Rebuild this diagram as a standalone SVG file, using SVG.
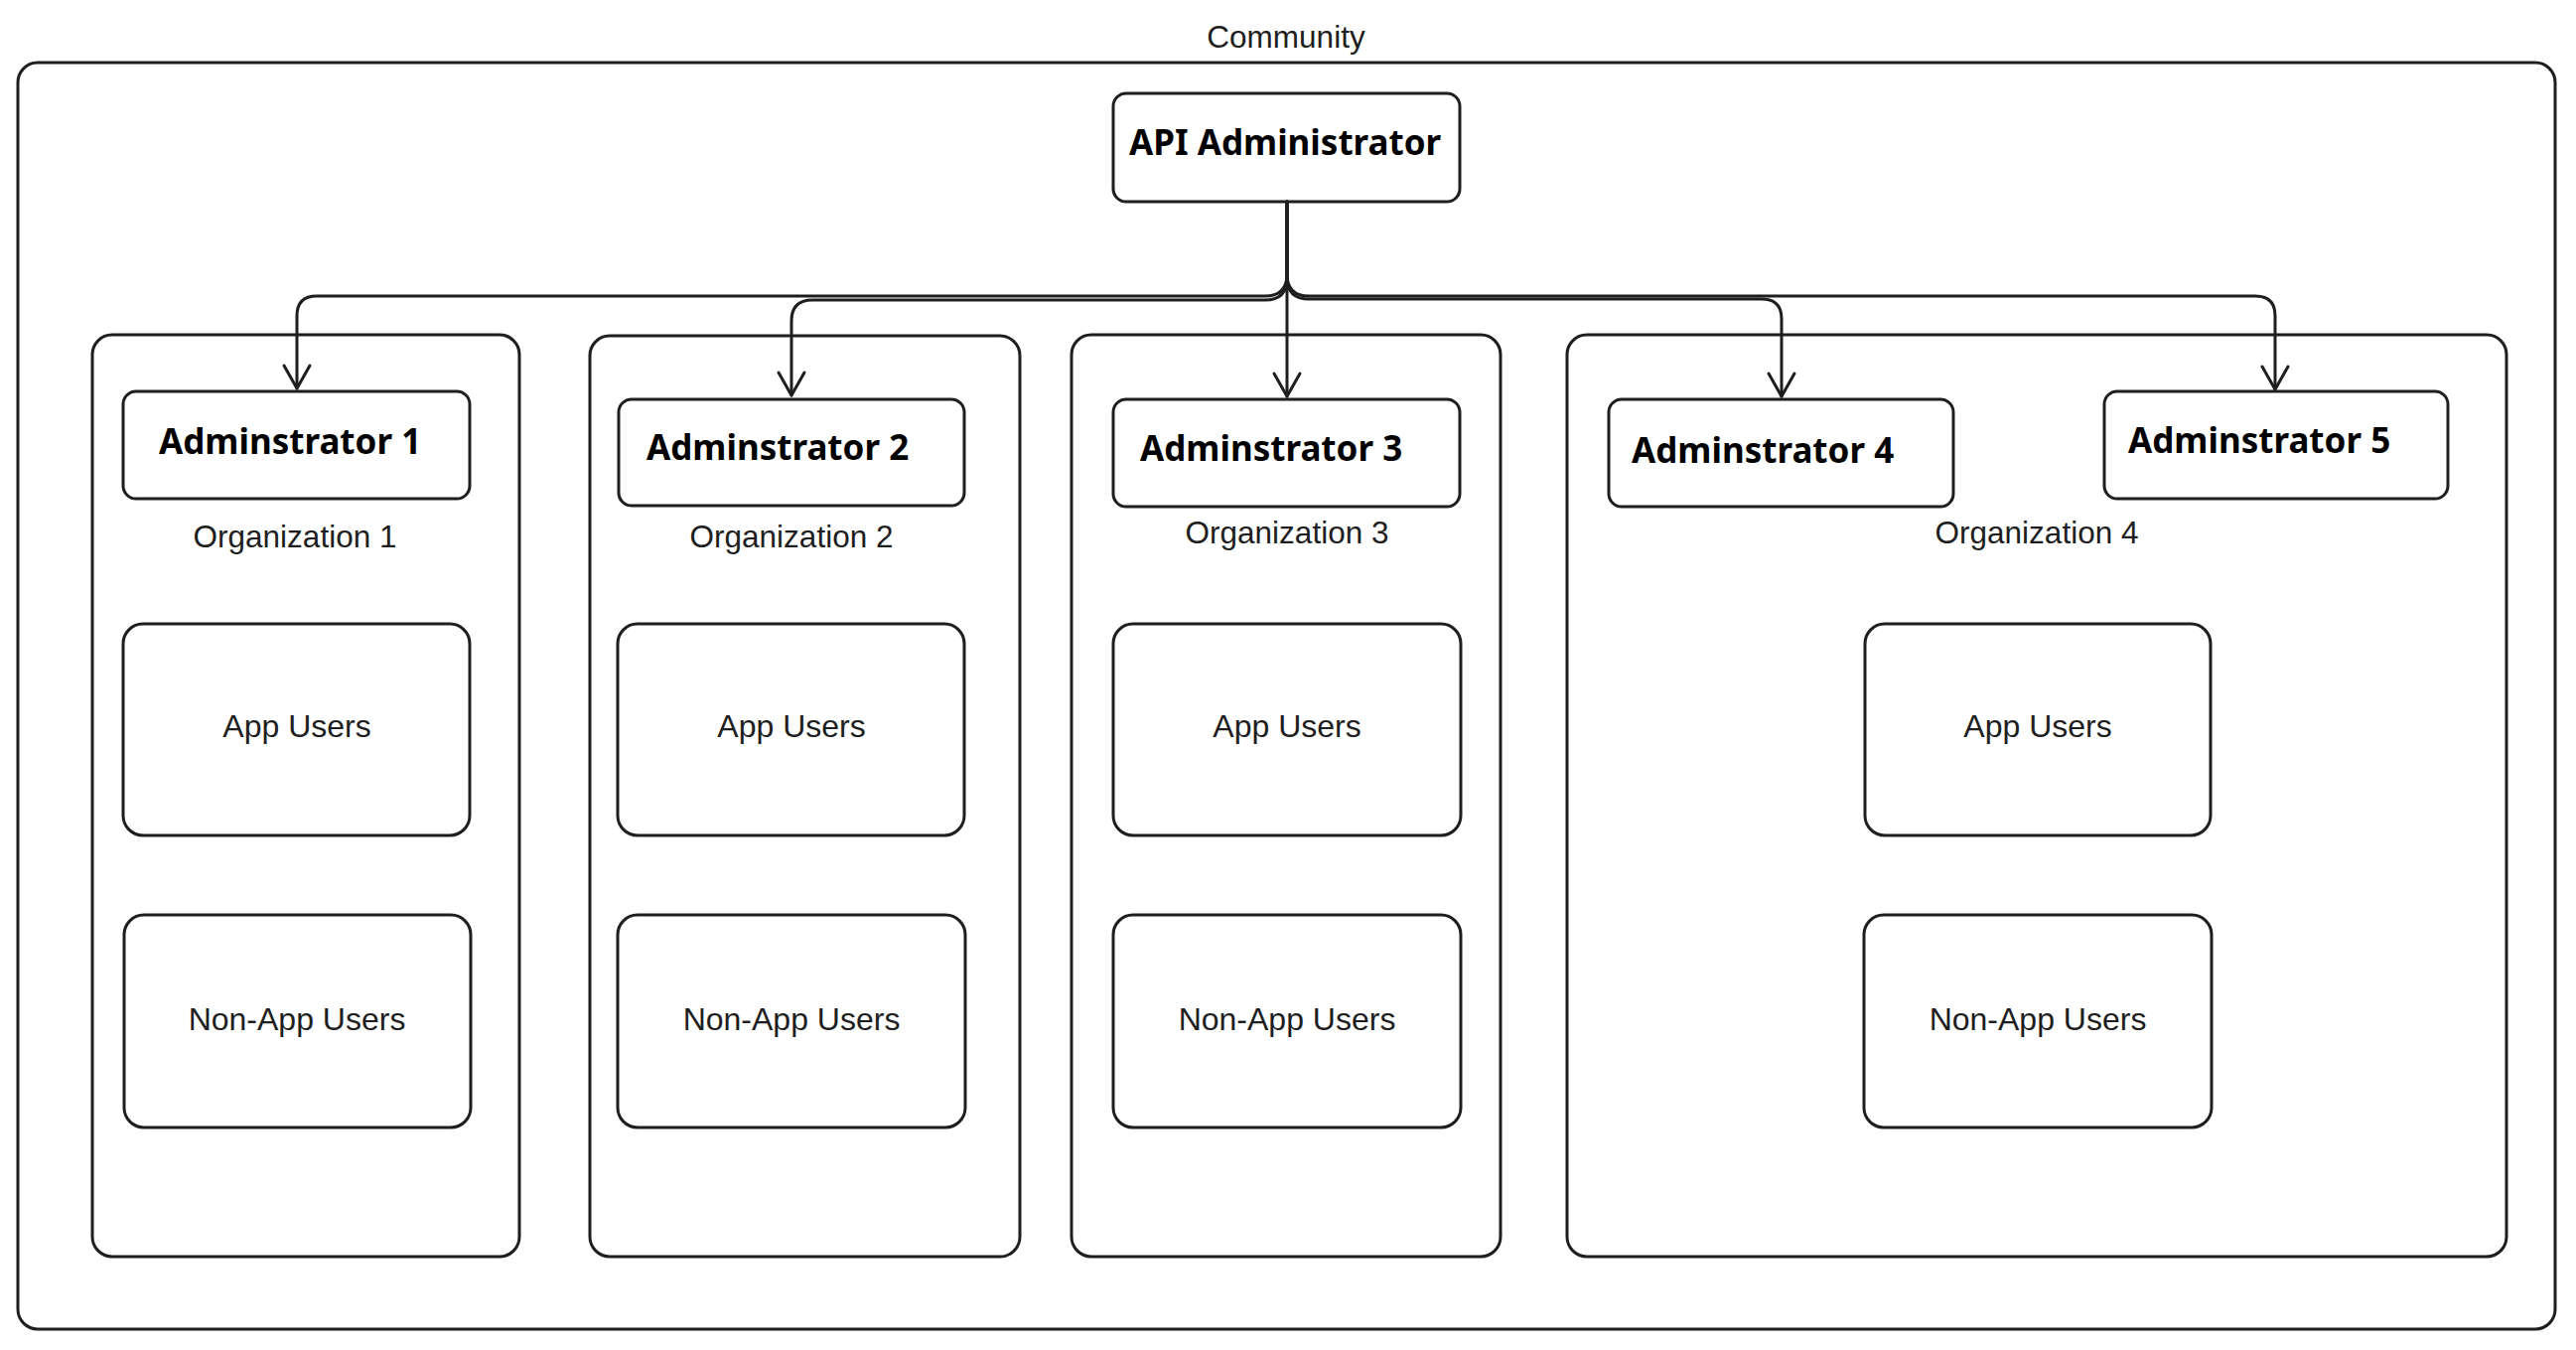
<svg xmlns="http://www.w3.org/2000/svg" width="2594" height="1359" viewBox="0 0 2594 1359">
<style>
.box{fill:none;stroke:#1e1e1e;stroke-width:3;stroke-linejoin:round}
.con{fill:none;stroke:#1e1e1e;stroke-width:3;stroke-linecap:round;stroke-linejoin:round}
.lbl{font-family:"Liberation Sans",Arial,sans-serif;font-size:32px;fill:#1e1e1e;text-anchor:middle}
.org{font-size:31.5px}
.bold{font-family:"Noto Sans","Open Sans",sans-serif;font-weight:700;font-size:35px;fill:#000}
</style>
<defs>
<marker id="arr" viewBox="-28 -16 32 32" refX="0" refY="0" markerWidth="32" markerHeight="32" markerUnits="userSpaceOnUse" orient="auto">
<path d="M-23 -13 L0 0 L-23 13" fill="none" stroke="#1e1e1e" stroke-width="3" stroke-linecap="round" stroke-linejoin="round"/>
</marker>
</defs>
<rect width="2594" height="1359" fill="#fff"/>

<g id="community">
<rect class="box" x="18" y="63" width="2555" height="1275" rx="20"/>
<text class="lbl org" x="1295" y="48">Community</text>
</g>

<g id="org1">
<rect class="box" x="93" y="337" width="430" height="928" rx="20"/>
<text class="lbl org" x="297" y="551">Organization 1</text>
</g>
<g id="org2">
<rect class="box" x="594" y="338" width="433" height="927" rx="20"/>
<text class="lbl org" x="797" y="551">Organization 2</text>
</g>
<g id="org3">
<rect class="box" x="1079" y="337" width="432" height="928" rx="20"/>
<text class="lbl org" x="1296" y="547">Organization 3</text>
</g>
<g id="org4">
<rect class="box" x="1578" y="337" width="946" height="928" rx="20"/>
<text class="lbl org" x="2051" y="547">Organization 4</text>
</g>

<g id="api-admin">
<rect class="box" x="1121" y="94" width="349" height="109" rx="13"/>
<text class="bold" x="1137" y="156">API Administrator</text>
</g>

<g id="admin1">
<rect class="box" x="124" y="394" width="349" height="108" rx="13"/>
<text class="bold" x="160" y="457">Adminstrator 1</text>
</g>
<g id="admin2">
<rect class="box" x="623" y="402" width="348" height="107" rx="13"/>
<text class="bold" x="651" y="463">Adminstrator 2</text>
</g>
<g id="admin3">
<rect class="box" x="1121" y="402" width="349" height="108" rx="13"/>
<text class="bold" x="1148" y="464">Adminstrator 3</text>
</g>
<g id="admin4">
<rect class="box" x="1620" y="402" width="347" height="108" rx="13"/>
<text class="bold" x="1643" y="466">Adminstrator 4</text>
</g>
<g id="admin5">
<rect class="box" x="2119" y="394" width="346" height="108" rx="13"/>
<text class="bold" x="2143" y="456">Adminstrator 5</text>
</g>

<g id="app-users-1">
<rect class="box" x="124" y="628" width="349" height="213" rx="20"/>
<text class="lbl" x="299" y="742">App Users</text>
</g>
<g id="app-users-2">
<rect class="box" x="622" y="628" width="349" height="213" rx="20"/>
<text class="lbl" x="797" y="742">App Users</text>
</g>
<g id="app-users-3">
<rect class="box" x="1121" y="628" width="350" height="213" rx="20"/>
<text class="lbl" x="1296" y="742">App Users</text>
</g>
<g id="app-users-4">
<rect class="box" x="1878" y="628" width="348" height="213" rx="20"/>
<text class="lbl" x="2052" y="742">App Users</text>
</g>

<g id="non-app-users-1">
<rect class="box" x="125" y="921" width="349" height="214" rx="20"/>
<text class="lbl" x="299" y="1037">Non-App Users</text>
</g>
<g id="non-app-users-2">
<rect class="box" x="622" y="921" width="350" height="214" rx="20"/>
<text class="lbl" x="797" y="1037">Non-App Users</text>
</g>
<g id="non-app-users-3">
<rect class="box" x="1121" y="921" width="350" height="214" rx="20"/>
<text class="lbl" x="1296" y="1037">Non-App Users</text>
</g>
<g id="non-app-users-4">
<rect class="box" x="1877" y="921" width="350" height="214" rx="20"/>
<text class="lbl" x="2052" y="1037">Non-App Users</text>
</g>

<g id="connectors">
<path class="con" marker-end="url(#arr)" d="M1296 203 V276 Q1296 298 1274 298 H319 Q299 298 299 318 V391"/>
<path class="con" marker-end="url(#arr)" d="M1296 203 V280 Q1296 302 1274 302 H818 Q797 302 797 323 V398"/>
<path class="con" marker-end="url(#arr)" d="M1296 203 V399"/>
<path class="con" marker-end="url(#arr)" d="M1296 203 V279 Q1296 301 1318 301 H1774 Q1794 301 1794 321 V399"/>
<path class="con" marker-end="url(#arr)" d="M1296 203 V276 Q1296 298 1318 298 H2271 Q2291 298 2291 318 V392"/>
</g>
</svg>
